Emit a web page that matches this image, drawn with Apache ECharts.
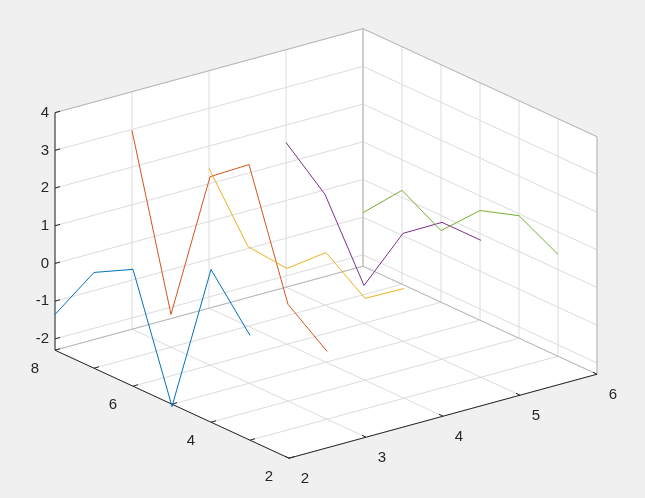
<!DOCTYPE html>
<html><head><meta charset="utf-8">
<script src="https://cdn.jsdelivr.net/npm/echarts@6/dist/echarts.min.js"></script>
<style>html,body{margin:0;background:#f0f0f0}#c{width:645px;height:498px}</style>
</head><body><div id="c"></div>
<script>
// data: each series lies at constant x, y runs 8..3
const yValues = [8, 7, 6, 5, 4, 3];
const xLevels = [2, 3, 4, 5, 6];
const z1 = [-1.35, 0.24, 0.8, -2.36, 1.75, 0.48];
const z2 = [2.97, -1.43, 2.7, 3.5, 0.27, -0.5];
const z3 = [1.41, -0.19, -0.29, 0.61, -0.13, 0.61];
const z4 = [1.54, 0.64, -1.3, 0.56, 1.33, 1.33];
const z5 = [-0.88, 0.19, -0.4, 0.61, 0.95, 0.4];
const xTicks = [2, 3, 4, 5, 6];
const yTicks = [2, 4, 6, 8];
const yGrid = [2, 3, 4, 5, 6, 7, 8];
const zTicks = [-2, -1, 0, 1, 2, 3, 4];
const colors = ['#0072BD', '#D95319', '#EDB120', '#7E2F8E', '#77AC30'];
const allZ = [z1, z2, z3, z4, z5];

const X0 = 2, X1 = 6, Y0 = 2, Y1 = 8, Z0 = -2.3, Z1 = 4;
function P(x, y, z) {
  return [55 + (x - 2) * 77 + (8 - y) * 39, 263.5 - (x - 2) * 21 + (8 - y) * 18 - z * 37.7];
}
const gridStyle = {stroke: '#dcdcdc', lineWidth: 1};
const edgeStyle = {stroke: '#b8b8b8', lineWidth: 1};
const axisStyle = {stroke: '#262626', lineWidth: 1};
function line(a, b, st) { return {type: 'line', shape: {x1: a[0], y1: a[1], x2: b[0], y2: b[1]}, style: st, silent: true}; }
function poly(pts, fill) { return {type: 'polygon', shape: {points: pts}, style: {fill: fill}, silent: true}; }
function txt(p, s, align) { return {type: 'text', x: p[0], y: p[1], style: {text: s, fill: '#262626', font: '15px "Liberation Sans", Arial', align: align, verticalAlign: 'middle'}, silent: true}; }

function render() {
  const ch = [];
  ch.push(poly([P(X0,Y0,Z0),P(X1,Y0,Z0),P(X1,Y1,Z0),P(X0,Y1,Z0)], '#fff'));
  ch.push(poly([P(X0,Y1,Z0),P(X1,Y1,Z0),P(X1,Y1,Z1),P(X0,Y1,Z1)], '#fff'));
  ch.push(poly([P(X1,Y0,Z0),P(X1,Y1,Z0),P(X1,Y1,Z1),P(X1,Y0,Z1)], '#fff'));
  xTicks.forEach(x => { ch.push(line(P(x,Y0,Z0), P(x,Y1,Z0), gridStyle)); ch.push(line(P(x,Y1,Z0), P(x,Y1,Z1), gridStyle)); });
  yGrid.forEach(y => { ch.push(line(P(X0,y,Z0), P(X1,y,Z0), gridStyle)); ch.push(line(P(X1,y,Z0), P(X1,y,Z1), gridStyle)); });
  zTicks.forEach(z => { ch.push(line(P(X0,Y1,z), P(X1,Y1,z), gridStyle)); ch.push(line(P(X1,Y1,z), P(X1,Y0,z), gridStyle)); });
  [[P(X0,Y1,Z1),P(X1,Y1,Z1)],[P(X1,Y1,Z1),P(X1,Y0,Z1)],[P(X1,Y0,Z1),P(X1,Y0,Z0)],[P(X1,Y1,Z0),P(X1,Y1,Z1)],[P(X0,Y1,Z0),P(X1,Y1,Z0)],[P(X1,Y1,Z0),P(X1,Y0,Z0)]]
    .forEach(e => ch.push(line(e[0], e[1], edgeStyle)));
  ch.push(line(P(X0,Y0,Z0), P(X1,Y0,Z0), axisStyle));
  ch.push(line(P(X0,Y0,Z0), P(X0,Y1,Z0), axisStyle));
  ch.push(line(P(X0,Y1,Z0), P(X0,Y1,Z1), axisStyle));
  xTicks.forEach(x => { const p = P(x,Y0,Z0); ch.push(line(p, [p[0]-4, p[1]-2], axisStyle)); ch.push(txt([p[0]+16, p[1]+21], String(x), 'center')); });
  yGrid.forEach(y => { const p = P(X0,y,Z0); ch.push(line(p, [p[0]+5, p[1]-1.5], axisStyle)); });
  yTicks.forEach(y => { const p = P(X0,y,Z0); ch.push(txt([p[0]-20, p[1]+19], String(y), 'center')); });
  zTicks.forEach(z => { const p = P(X0,Y1,z); ch.push(line(p, [p[0]+5, p[1]-1.5], axisStyle)); ch.push(txt([p[0]-6, p[1]], String(z), 'right')); });
  allZ.forEach((zs, i) => {
    const pts = zs.map((z, k) => P(xLevels[i], yValues[k], z));
    ch.push({type: 'polyline', shape: {points: pts}, style: {stroke: colors[i], lineWidth: 1, fill: null}, silent: true});
  });
  return {type: 'group', children: ch};
}
const chart = echarts.init(document.getElementById('c'));
chart.setOption({
  backgroundColor: '#f0f0f0', animation: false,
  series: [{type: 'custom', coordinateSystem: 'none', data: [0], renderItem: render}]
});
</script></body></html>
